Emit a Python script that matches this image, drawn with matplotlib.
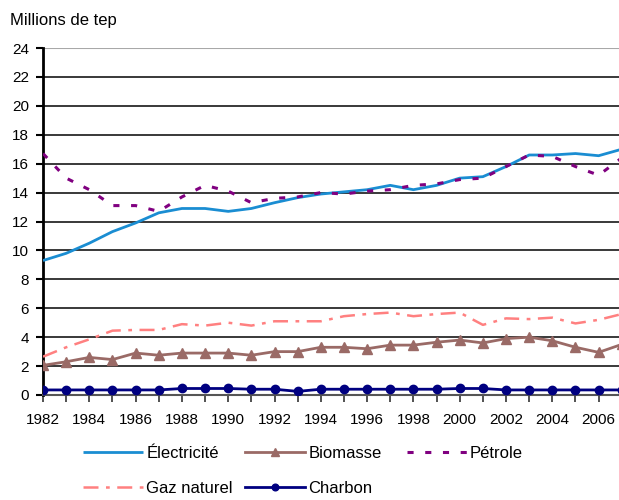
import matplotlib
matplotlib.use("Agg")
import matplotlib.pyplot as plt
import numpy as np

plt.rcParams['font.family'] = ['Liberation Sans', 'DejaVu Sans']

years = list(range(1982, 2008))

electricite = [9.3, 9.8, 10.5, 11.3, 11.9, 12.6, 12.9, 12.9, 12.7, 12.9,
               13.3, 13.65, 13.9, 14.05, 14.2, 14.5, 14.2, 14.5, 15.0, 15.1,
               15.8, 16.6, 16.6, 16.7, 16.55, 17.0]
biomasse = [2.05, 2.3, 2.6, 2.45, 2.9, 2.75, 2.9, 2.9, 2.9, 2.75,
            3.0, 3.0, 3.3, 3.3, 3.2, 3.45, 3.45, 3.65, 3.8, 3.6,
            3.9, 4.0, 3.75, 3.3, 2.95, 3.5]
petrole = [16.7, 15.0, 14.2, 13.1, 13.1, 12.7, 13.7, 14.5, 14.1, 13.3,
           13.6, 13.7, 14.0, 13.9, 14.1, 14.2, 14.5, 14.6, 14.9, 15.0,
           15.8, 16.6, 16.5, 15.8, 15.2, 16.4]
gaz_naturel = [2.65, 3.3, 3.85, 4.45, 4.5, 4.5, 4.9, 4.8, 5.0, 4.8,
               5.1, 5.1, 5.1, 5.45, 5.6, 5.7, 5.45, 5.6, 5.7, 4.85,
               5.3, 5.25, 5.35, 4.95, 5.2, 5.6]
charbon = [0.35, 0.35, 0.35, 0.35, 0.35, 0.35, 0.45, 0.45, 0.45, 0.4,
           0.4, 0.25, 0.4, 0.4, 0.4, 0.4, 0.4, 0.4, 0.45, 0.45,
           0.35, 0.35, 0.35, 0.35, 0.35, 0.35]

fig = plt.figure(figsize=(6.19, 5.0), dpi=100)
ax = fig.add_axes([0.0695, 0.21, 0.935, 0.694])

# horizontal grid
for v in range(2, 23, 2):
    ax.axhline(v, color='#2a2a2a', lw=1.3, zorder=1)
ax.axhline(24, color='#a8a8a8', lw=1.5, zorder=1)

l_el, = ax.plot(years, electricite, color='#1a8dd2', lw=2.0, zorder=3,
                solid_capstyle='butt')
l_bio, = ax.plot(years, biomasse, color='#9a6a66', lw=2.0, marker='^',
                 markersize=7, zorder=3)
l_pet, = ax.plot(years, petrole, color='#800080', lw=2.2,
                 linestyle=(0, (2.0, 3.8)), zorder=4)
l_gaz, = ax.plot(years, gaz_naturel, color='#ff8080', lw=1.8,
                 linestyle=(0, (6, 3, 1.5, 3)), zorder=3)
l_ch, = ax.plot(years, charbon, color='#000080', lw=2.0, marker='o',
                markersize=6, zorder=4)

ax.set_xlim(1982, 2007)
ax.set_ylim(0, 24)
ax.set_yticks(range(0, 25, 2))
ax.set_xticks(range(1982, 2007, 2))
ax.set_xticks(range(1982, 2008), minor=True)

for s in ['top', 'right']:
    ax.spines[s].set_visible(False)
ax.spines['left'].set_linewidth(2)
ax.spines['left'].set_color('black')
ax.spines['bottom'].set_color('#555555')
ax.spines['bottom'].set_linewidth(1.5)

ax.tick_params(axis='y', length=5, width=1.5, labelsize=11, pad=5)
ax.tick_params(axis='x', which='both', length=5, width=1.2, labelsize=11,
               pad=8, color='#333333')
ax.tick_params(axis='x', which='minor', labelbottom=False)

fig.text(0.016, 0.958, "Millions de tep", fontsize=12, va='center', ha='left')

# legend laid out in three columns, two rows
legend_cols = [
    ([l_el, l_gaz], ["Électricité", "Gaz naturel"], 0.134),
    ([l_bio, l_ch], ["Biomasse", "Charbon"], 0.396),
    ([l_pet], ["Pétrole"], 0.657),
]
for hs, ls, x0 in legend_cols:
    fig.legend(hs, ls, loc='upper left', bbox_to_anchor=(x0, 0.108),
               frameon=False, fontsize=12, handlelength=3.6,
               handletextpad=0.2, labelspacing=1.2, borderaxespad=0,
               borderpad=0, markerscale=0.8)

fig.savefig("out.png", dpi=100)
